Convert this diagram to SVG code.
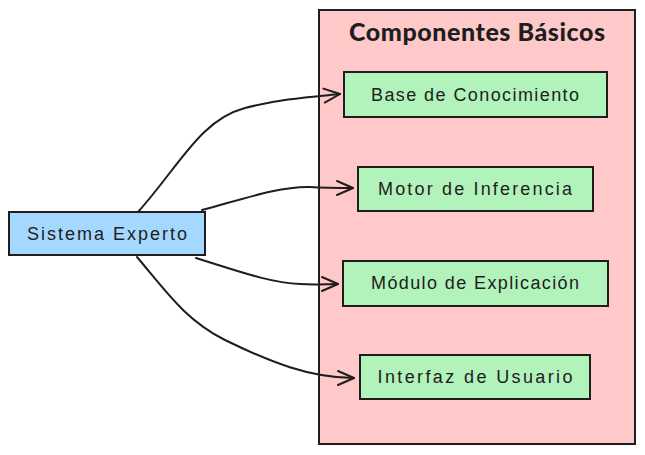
<svg xmlns="http://www.w3.org/2000/svg" width="645" height="455" viewBox="0 0 645 455">
<defs>
<style>
.box{stroke:#1e1e1e;stroke-width:2;}
.lbl{font-family:"Liberation Sans",sans-serif;font-size:18px;fill:#1e1e1e;text-anchor:middle;}
.title{font-family:Lato,"Liberation Sans",sans-serif;font-weight:900;font-size:25px;fill:#1e1e1e;text-anchor:middle;}
.conn{fill:none;stroke:#1e1e1e;stroke-width:2;stroke-linecap:round;}
</style>
<marker id="arr" viewBox="0 0 20 20" refX="18" refY="10" markerWidth="20" markerHeight="20" markerUnits="userSpaceOnUse" orient="auto">
<path d="M2,3 L18,10 L2,17" fill="none" stroke="#1e1e1e" stroke-width="2" stroke-linecap="round" stroke-linejoin="round"/>
</marker>
</defs>
<rect width="645" height="455" fill="#ffffff"/>
<g id="componentes">
<rect class="box" x="319" y="10" width="316" height="434" fill="#ffc9c9"/>
<text class="title" x="477" y="41" textLength="256">Componentes Básicos</text>
</g>
<g id="base">
<rect class="box" x="344" y="72" width="263" height="45" fill="#b2f2bb"/>
<text class="lbl" x="475" y="101" textLength="208">Base de Conocimiento</text>
</g>
<g id="motor">
<rect class="box" x="358" y="167" width="235" height="44" fill="#b2f2bb"/>
<text class="lbl" x="475" y="195" textLength="194">Motor de Inferencia</text>
</g>
<g id="modulo">
<rect class="box" x="343" y="261" width="265" height="45" fill="#b2f2bb"/>
<text class="lbl" x="475" y="289" textLength="208">Módulo de Explicación</text>
</g>
<g id="interfaz">
<rect class="box" x="360" y="355" width="230" height="44" fill="#b2f2bb"/>
<text class="lbl" x="475" y="383" textLength="195">Interfaz de Usuario</text>
</g>
<g id="sistema">
<rect class="box" x="9" y="212" width="196" height="43" fill="#a5d8ff"/>
<text class="lbl" x="107" y="240" textLength="160">Sistema Experto</text>
</g>
<g id="connectors">
<path class="conn" marker-end="url(#arr)" d="M138,212 C180,165 200,120 245,108 C280,99 310,97 340,94"/>
<path class="conn" marker-end="url(#arr)" d="M202,210 C240,200 280,186 310,187 C325,188 340,188 353,188"/>
<path class="conn" marker-end="url(#arr)" d="M196,258 C235,270 270,283 300,284 C315,285 325,284 338,284"/>
<path class="conn" marker-end="url(#arr)" d="M137,257 C165,290 185,320 225,340 C270,362 310,378 354,378"/>
</g>
</svg>
